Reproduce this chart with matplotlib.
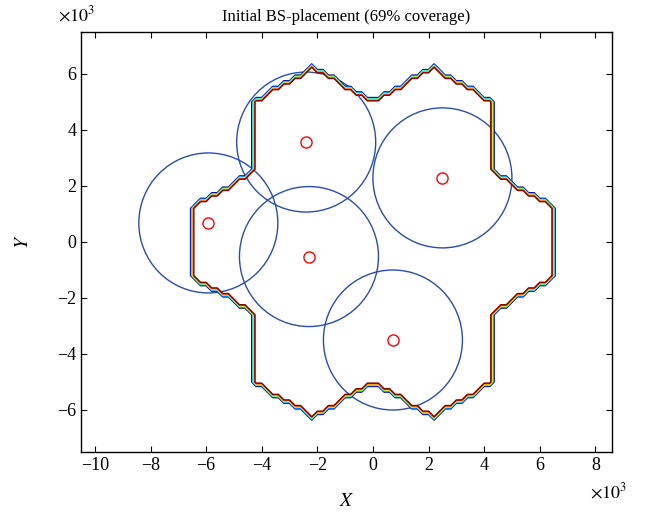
import numpy as np
import matplotlib
matplotlib.use("Agg")
import matplotlib.pyplot as plt
from matplotlib.patches import Circle

plt.rcParams['font.family'] = ['Liberation Serif', 'DejaVu Serif']
plt.rcParams['mathtext.fontset'] = 'stix'

# service area: 7 hexagonal cells (x10^3 m)
cell_x = [0.0, 4.33, -4.33, 2.165, -2.165, 2.165, -2.165]
cell_y = [0.0, 0.0, 0.0, 3.75, 3.75, -3.75, -3.75]
cell_r = 2.5
grid_step = 0.2

# base stations and their coverage radius (x10^3 m)
bs_x = [-2.4, 2.5, -5.92, -2.3, 0.72]
bs_y = [3.57, 2.29, 0.68, -0.52, -3.5]
bs_r = 2.5

title = 'Initial BS-placement (69% coverage)'

# rasterised area mask
gx = np.arange(-7.6, 7.6 + grid_step / 2, grid_step)
gy = np.arange(-7.6, 7.6 + grid_step / 2, grid_step)
X, Y = np.meshgrid(gx, gy)
mask = np.zeros_like(X)
s3 = np.sqrt(3) / 2
for cx, cy in zip(cell_x, cell_y):
    dx = np.abs(X - cx)
    dy = np.abs(Y - cy)
    inside = (dx <= s3 * cell_r) & (dy <= cell_r - dx / np.sqrt(3))
    mask[inside] = 1.0

fig = plt.figure(figsize=(6.55, 5.14), dpi=100)
ax = fig.add_axes([81 / 655, 62 / 514, 531 / 655, 420 / 514])

ax.contour(X, Y, mask, levels=np.linspace(0.2, 0.8, 7), cmap='jet',
           linewidths=1.0)

for x, y in zip(bs_x, bs_y):
    ax.add_patch(Circle((x, y), bs_r, fill=False, edgecolor='#2a4caf',
                        linewidth=1.0))
ax.plot(bs_x, bs_y, 'o', mfc='none', mec='red', ms=8, mew=1.0)

ax.set_xlim(-10.5, 8.6)
ax.set_ylim(-7.5, 7.5)
ax.set_xticks(np.arange(-10, 9, 2))
ax.set_yticks(np.arange(-6, 7, 2))
ax.tick_params(direction='in', top=True, right=True, length=4,
               labelsize=13, width=0.8)
for sp in ax.spines.values():
    sp.set_linewidth(1.0)

ax.set_title(title, fontsize=12, pad=8)
ax.set_xlabel('$X$', fontsize=14, labelpad=14)
ax.set_ylabel('$Y$', fontsize=14, labelpad=18)
fig.text(58 / 655, 1 - 15 / 514, r'$\times10^3$', fontsize=13, va='center')
fig.text(590 / 655, 1 - 492 / 514, r'$\times10^3$', fontsize=13, va='center')

fig.savefig('out.png', dpi=100)
